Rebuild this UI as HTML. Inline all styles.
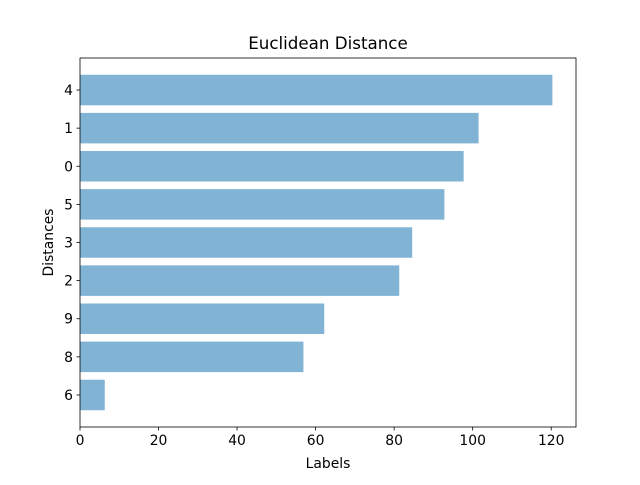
<!DOCTYPE html>
<html><head><meta charset="utf-8"><style>
body{margin:0;background:#fff;font-family:"Liberation Sans","DejaVu Sans",sans-serif}
</style></head><body>
<svg id="chart" width="640" height="480" xmlns="http://www.w3.org/2000/svg" font-family="DejaVu Sans, Liberation Sans, sans-serif">
<rect width="640" height="480" fill="#fff"/>
<g id="plot"></g>
</svg>
<script>
const categories = ["6","8","9","2","3","5","0","1","4"];
const values = [6.3, 56.9, 62.2, 81.3, 84.6, 92.8, 97.7, 101.5, 120.3];
const xTicks = [0,20,40,60,80,100,120];

const L=80,R=576,T=58,B=427;
const ns="http://www.w3.org/2000/svg";
const g=document.getElementById('plot');
const xmax=Math.max(...values)*1.05;
const x=v=>L+(v/xmax)*(R-L);
const n=categories.length;
const span=(n-1+0.8), lo=-0.4-span*0.05, hi=n-1+0.4+span*0.05;
const y=v=>B-(v-lo)/(hi-lo)*(B-T);
function el(t,a,txt){const e=document.createElementNS(ns,t);for(const k in a)e.setAttribute(k,a[k]);if(txt!==undefined)e.textContent=txt;g.appendChild(e);return e;}
values.forEach((v,i)=>{
  const r=el('rect',{x:x(0),y:y(i+0.4),width:x(v)-x(0),height:y(i-0.4)-y(i+0.4),fill:'#1f77b4','fill-opacity':0.56});
  
  
  el('line',{x1:L-3.5,x2:L,y1:y(i),y2:y(i),stroke:'#000','stroke-width':0.8});
  const lb=el('text',{x:L-7,y:y(i)+5,'text-anchor':'end','font-size':13.9},categories[i]);
  
  
});
xTicks.forEach(t=>{
  el('line',{x1:x(t),x2:x(t),y1:B,y2:B+3.5,stroke:'#000','stroke-width':0.8});
  const lb=el('text',{x:x(t),y:B+18,'text-anchor':'middle','font-size':13.9},t);
  
  
});
const f=el('rect',{x:L,y:T,width:R-L,height:B-T,fill:'none',stroke:'#000','stroke-width':0.8});


const ti=el('text',{x:(L+R)/2,y:T-9,'text-anchor':'middle','font-size':16.7},'Euclidean Distance');


const xl=el('text',{x:(L+R)/2,y:B+41,'text-anchor':'middle','font-size':13.9},'Labels');


const yl=el('text',{x:0,y:0,'text-anchor':'middle','font-size':13.9,transform:`translate(53,${(T+B)/2}) rotate(-90)`},'Distances');


</script>
</body></html>
